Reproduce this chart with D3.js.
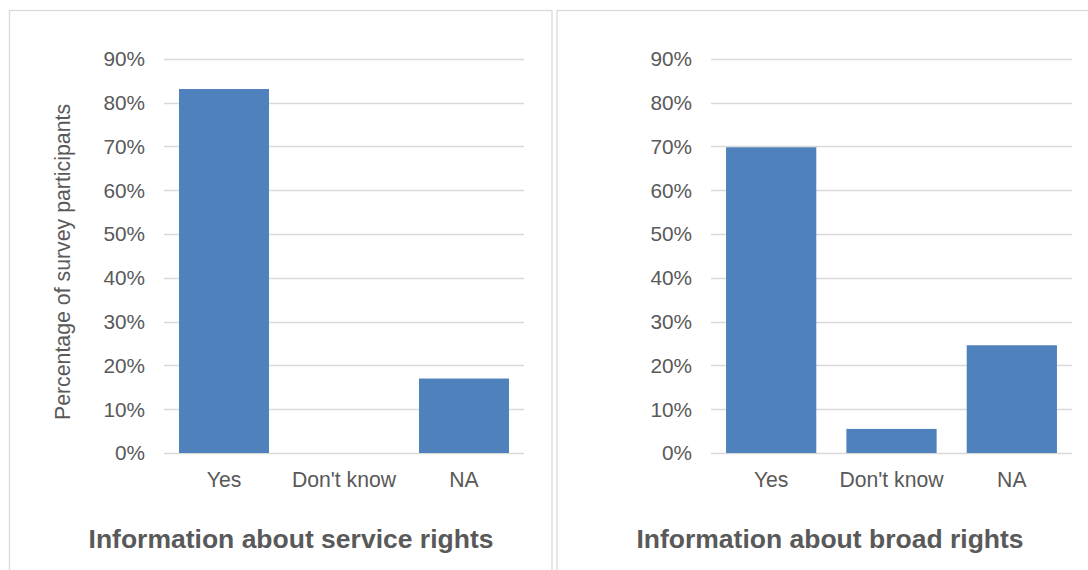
<!DOCTYPE html>
<html>
<head>
<meta charset="utf-8">
<script src="https://cdn.jsdelivr.net/npm/d3@7"></script>
<style>
  html, body { margin: 0; padding: 0; background: #fff; }
  svg { display: block; font-family: "Liberation Sans", Arial, sans-serif; }
</style>
</head>
<body>
<svg id="chart" width="1088" height="570"></svg>
<script>
const categories = ["Yes", "Don't know", "NA"];
const serviceRights = [83.1, 0, 17.0];
const broadRights = [69.8, 5.5, 24.6];
const titles = ["Information about service rights", "Information about broad rights"];
const yTicks = [0, 10, 20, 30, 40, 50, 60, 70, 80, 90];
const yLabel = "Percentage of survey participants";

const svg = d3.select("#chart");
const textColor = "#595959";
const gridColor = "#D9D9D9";
const barColor = "#4F81BD";

const panels = [
  { values: serviceRights, title: titles[0], box: [9.5, 10.5, 552, 600], plot: [164, 524], titleX: 291, showYLabel: true },
  { values: broadRights, title: titles[1], box: [557, 10.5, 1100, 600], plot: [711, 1072], titleX: 830, showYLabel: false }
];

const y = d3.scaleLinear().domain([0, 90]).range([453, 58.8]);

panels.forEach(p => {
  const g = svg.append("g");
  g.append("rect")
    .attr("x", p.box[0]).attr("y", p.box[1])
    .attr("width", p.box[2] - p.box[0]).attr("height", p.box[3] - p.box[1])
    .attr("fill", "#fff").attr("stroke", gridColor).attr("stroke-width", 1.3);

  const x = d3.scaleBand().domain(categories).range(p.plot).paddingInner(0.25).paddingOuter(0.125);

  g.append("g").selectAll("line").data(yTicks).join("line")
    .attr("x1", p.plot[0]).attr("x2", p.plot[1])
    .attr("y1", d => Math.round(y(d)) + 0.5).attr("y2", d => Math.round(y(d)) + 0.5)
    .attr("stroke", gridColor).attr("stroke-width", 1.3);

  g.append("g").selectAll("text").data(yTicks).join("text")
    .attr("x", p.plot[0] - 19).attr("y", d => y(d))
    .attr("dy", "0.36em")
    .attr("text-anchor", "end")
    .attr("font-size", 20.8).attr("fill", textColor)
    .text(d => d + "%");

  g.append("g").selectAll("rect").data(categories.map((c, i) => ({ c, v: p.values[i] }))).join("rect")
    .attr("x", d => x(d.c)).attr("width", x.bandwidth())
    .attr("y", d => y(d.v)).attr("height", d => y(0) - y(d.v))
    .attr("fill", barColor);

  g.append("g").selectAll("text").data(categories).join("text")
    .attr("x", d => x(d) + x.bandwidth() / 2).attr("y", 486.5)
    .attr("text-anchor", "middle")
    .attr("font-size", 21.2).attr("fill", textColor)
    .text(d => d);

  g.append("text")
    .attr("x", p.titleX).attr("y", 547.5)
    .attr("text-anchor", "middle")
    .attr("font-size", 26.5).attr("font-weight", "bold").attr("fill", textColor)
    .text(p.title);

  if (p.showYLabel) {
    g.append("text")
      .attr("transform", `translate(69.5, 262) rotate(-90)`)
      .attr("text-anchor", "middle")
      .attr("font-size", 21.3).attr("fill", textColor)
      .text(yLabel);
  }
});
</script>
</body>
</html>
